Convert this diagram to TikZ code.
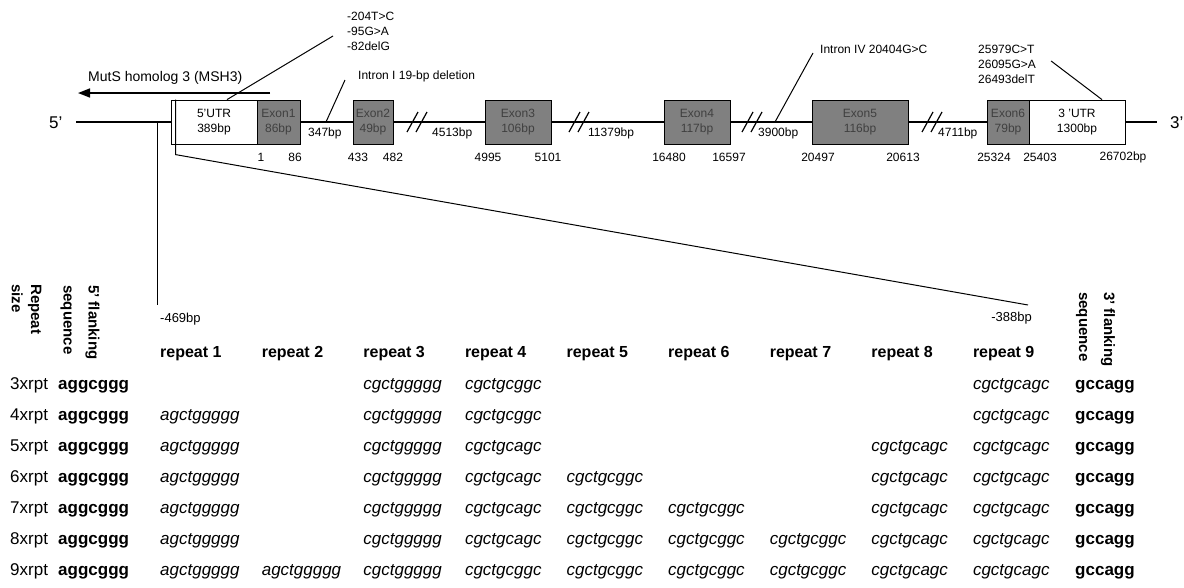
\documentclass[tikz,border=0pt]{standalone}
\usepackage{fontspec}
\setmainfont{Liberation Sans}
\usepackage{xcolor}
\usepackage{tikz}
\usetikzlibrary{calc,arrows.meta}
\definecolor{exgray}{RGB}{128,128,128}
\newcommand\fsz[1]{\fontsize{#1}{#1}\selectfont}

\begin{document}
\begin{tikzpicture}[x=1pt,y=-1pt,
  every node/.style={inner sep=0pt},
  lbl/.style={font=\fontsize{12}{15}\selectfont, align=left},
  bb/.style={line width=1.6pt},
  lead/.style={line width=1pt},
  brk/.style={line width=1.2pt},
  exon/.style={draw, line width=0.8pt, fill=exgray, text=black!75, minimum height=44, align=center, font=\fontsize{12}{15}\selectfont},
  utr/.style={draw, line width=0.8pt, fill=white, minimum height=44, align=center, font=\fontsize{12}{15}\selectfont},
  endlab/.style={font=\fsz{17}, anchor=west},
  colhd/.style={font=\bfseries\fsz{15}, rotate=-90, anchor=base west},
  hdr/.style={font=\bfseries\fsz{16}, anchor=base west},
  cell/.style={font=\fsz{17}, anchor=base west},
  flank/.style={font=\bfseries\fsz{17}, anchor=base west},
  rep/.style={font=\itshape\fsz{17}, anchor=base west}]
  \useasboundingbox (0,0) rectangle (1184,587);

  % gene map
  \node[endlab] (five) at (49,123) {5'};
  \node[endlab] (three) at (1170,123) {3'};
  \coordinate (lft) at (76,122);
  \coordinate (rgt) at (1157,122);
  \node[utr, minimum width=86] (utr5) at (214,122) {5'UTR\\389bp};
  \node[exon, minimum width=43] (ex1) at (278.5,122) {Exon1\\86bp};
  \node[exon, minimum width=40] (ex2) at (373,122) {Exon2\\49bp};
  \node[exon, minimum width=66] (ex3) at (518,122) {Exon3\\106bp};
  \node[exon, minimum width=66] (ex4) at (697,122) {Exon4\\117bp};
  \node[exon, minimum width=96] (ex5) at (860,122) {Exon5\\116bp};
  \node[exon, minimum width=42] (ex6) at (1008,122) {Exon6\\79bp};
  \node[utr, minimum width=96] (utr3) at (1077,122) {3 'UTR\\1300bp};
  \draw[bb] (lft) -- (utr5.west);
  \draw[bb] (ex1.east) -- (ex2.west);
  \draw[bb] (ex2.east) -- (ex3.west);
  \draw[bb] (ex3.east) -- (ex4.west);
  \draw[bb] (ex4.east) -- (ex5.west);
  \draw[bb] (ex5.east) -- (ex6.west);
  \draw[bb] (utr3.east) -- (rgt);
  \foreach \bx in {417,579,752,932}
    \draw[brk] (\bx-10,132) -- (\bx+1,112) (\bx-1,132) -- (\bx+10,112);

  % intron sizes and positions
  \foreach \x/\t in {308/347bp, 432/4513bp, 588/11379bp, 758/3900bp, 938/4711bp}
    \node[lbl, anchor=west] (g\t) at (\x,133) {\t};
  \foreach \x/\t in {261/1, 295/86, 358/433, 393/482, 488/4995, 548/5101, 669/16480,
                     729/16597, 818/20497, 903/20613, 994/25324, 1040/25403, 1123/26702bp}
    \node[lbl] (p\t) at (\x,157) {\t};

  % variants
  \node[font=\fsz{14}, anchor=west] (msh) at (88,78) {MutS homolog 3 (MSH3)};
  \coordinate (arrS) at (270,93);
  \coordinate (arrE) at (78,93);
  \draw[bb, -{Triangle[length=12pt,width=9pt]}] (arrS) -- (arrE);
  \node[lbl, anchor=west] (mutA) at (347,31) {-204T>C\\-95G>A\\-82delG};
  \draw[lead] ([xshift=13pt]utr5.north) -- ($(mutA.west)+(-14,5)$);
  \node[lbl, anchor=west] (intI) at (358,76) {Intron I 19-bp deletion};
  \coordinate (i1) at (326,122);
  \draw[lead] (i1) -- ($(intI.west)+(-13,4)$);
  \node[lbl, anchor=west] (intIV) at (820,49) {Intron IV 20404G>C};
  \coordinate (i4) at (775,122);
  \draw[lead] (i4) -- ($(intIV.west)+(-7,4)$);
  \node[lbl, anchor=west] (mutB) at (978,64) {25979C>T\\26095G>A\\26493delT};
  \draw[lead] ($(mutB.east)+(15,-3)$) -- ([xshift=25pt]utr3.north);

  % zoom onto the promoter repeat
  \coordinate (tap5) at (157,122);
  \coordinate (cut469) at (157,305);
  \coordinate (cut388) at (1028,305);
  \draw[lead] (tap5) -- (cut469);
  \draw[lead] ([xshift=5pt]utr5.north west) -- ++(0,55) -- (cut388);
  \node[font=\fsz{13}, anchor=base west] (n469) at (160,322) {-469bp};
  \node[font=\fsz{13}, anchor=base east] (n388) at (1032,321) {-388bp};

  % repeat table
  \node[colhd] (hRep) at (31,284) {Repeat};
  \node[colhd] (hSize) at (12,284) {size};
  \node[colhd] (h5a) at (88.5,285) {5' flanking};
  \node[colhd] (h5b) at (63.5,285) {sequence};
  \node[colhd] (h3a) at (1104,292) {3' flanking};
  \node[colhd] (h3b) at (1079,292) {sequence};
  \foreach \k in {1,...,9}
    \node[hdr] (h\k) at ({160+101.6*(\k-1)},357) {repeat \k};
  \foreach \nr in {3,...,9} {
    \node[cell] (n\nr) at (10,{389+31*(\nr-3)}) {\nr xrpt};
    \node[flank] (f\nr) at (58,{389+31*(\nr-3)}) {aggcggg};
    \node[flank] (t\nr) at (1075,{389+31*(\nr-3)}) {gccagg};
  }
  \foreach \nr/\k/\s in {
      3/3/cgctggggg, 3/4/cgctgcggc, 3/9/cgctgcagc,
      4/1/agctggggg, 4/3/cgctggggg, 4/4/cgctgcggc, 4/9/cgctgcagc,
      5/1/agctggggg, 5/3/cgctggggg, 5/4/cgctgcagc, 5/8/cgctgcagc, 5/9/cgctgcagc,
      6/1/agctggggg, 6/3/cgctggggg, 6/4/cgctgcagc, 6/5/cgctgcggc, 6/8/cgctgcagc, 6/9/cgctgcagc,
      7/1/agctggggg, 7/3/cgctggggg, 7/4/cgctgcagc, 7/5/cgctgcggc, 7/6/cgctgcggc,
      7/8/cgctgcagc, 7/9/cgctgcagc,
      8/1/agctggggg, 8/3/cgctggggg, 8/4/cgctgcagc, 8/5/cgctgcggc, 8/6/cgctgcggc,
      8/7/cgctgcggc, 8/8/cgctgcagc, 8/9/cgctgcagc,
      9/1/agctggggg, 9/2/agctggggg, 9/3/cgctggggg, 9/4/cgctgcggc, 9/5/cgctgcggc,
      9/6/cgctgcggc, 9/7/cgctgcggc, 9/8/cgctgcagc, 9/9/cgctgcagc}
    \node[rep] (s\nr-\k) at ({160+101.6*(\k-1)},{389+31*(\nr-3)}) {\s};
\end{tikzpicture}
\end{document}
